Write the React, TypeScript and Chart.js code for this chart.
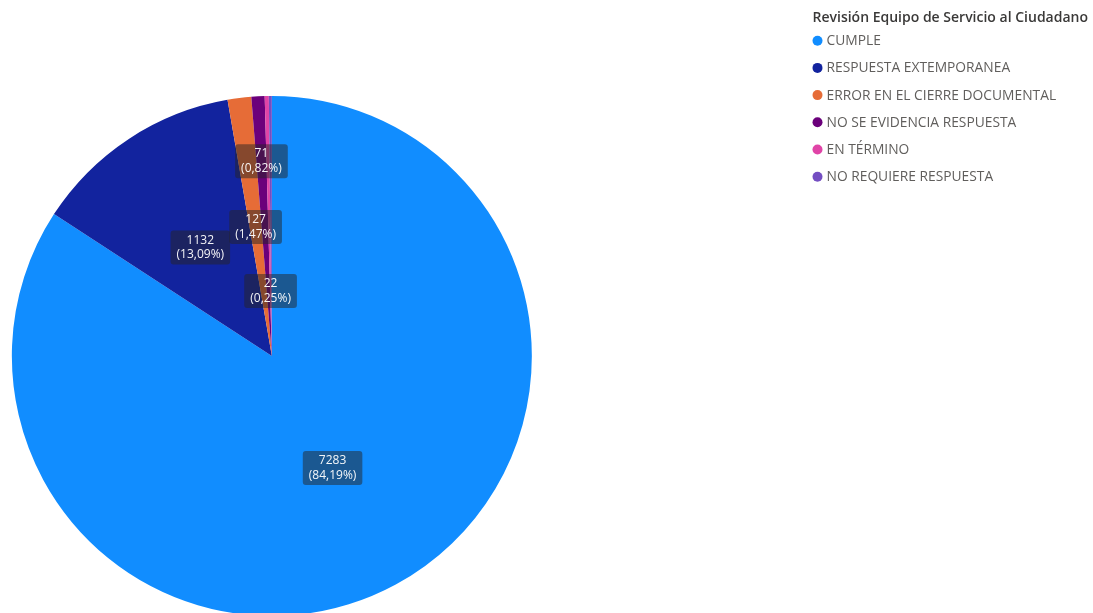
import React, { useEffect, useRef } from 'react';
import { Chart, registerables } from 'chart.js';

Chart.register(...registerables);

const legendTitle = 'Revisión Equipo de Servicio al Ciudadano';
const categories = [
  'CUMPLE',
  'RESPUESTA EXTEMPORANEA',
  'ERROR EN EL CIERRE DOCUMENTAL',
  'NO SE EVIDENCIA RESPUESTA',
  'EN TÉRMINO',
  'NO REQUIERE RESPUESTA',
];
const counts = [7283, 1132, 127, 71, 22, 16];
const sliceColors = ['#118DFF', '#12239E', '#E66C37', '#6B007B', '#E044A7', '#744EC2'];

const FONT = "'Segoe UI', 'Open Sans', 'Noto Sans', sans-serif";

function fmtPct(v: number, total: number) {
  return '(' + ((v / total) * 100).toFixed(2).replace('.', ',') + '%)';
}

const sliceLabelPlugin = {
  id: 'sliceLabels',
  afterDatasetsDraw(chart: any, _args: any, opts: any) {
    const ctx = chart.ctx;
    const meta = chart.getDatasetMeta(0);
    const data: number[] = chart.data.datasets[0].data;
    const total = data.reduce((a, b) => a + b, 0);
    const fractions: (number | null)[] = opts.radialFractions || [];
    ctx.save();
    ctx.font = `${opts.fontSize}px ${FONT}`;
    ctx.textAlign = 'center';
    ctx.textBaseline = 'middle';
    meta.data.forEach((arc: any, i: number) => {
      const f = fractions[i];
      if (f == null) return;
      const p = arc.getProps(['x', 'y', 'startAngle', 'endAngle', 'outerRadius']);
      const mid = (p.startAngle + p.endAngle) / 2;
      const cx = p.x + Math.cos(mid) * p.outerRadius * f;
      const cy = p.y + Math.sin(mid) * p.outerRadius * f;
      const l1 = String(data[i]);
      const l2 = fmtPct(data[i], total);
      const w = Math.max(ctx.measureText(l1).width, ctx.measureText(l2).width) + opts.padX * 2;
      const h = opts.lineHeight * 2 + opts.padY * 2;
      const x0 = cx - w / 2;
      const y0 = cy - h / 2;
      const r = opts.cornerRadius;
      ctx.beginPath();
      ctx.moveTo(x0 + r, y0);
      ctx.lineTo(x0 + w - r, y0);
      ctx.quadraticCurveTo(x0 + w, y0, x0 + w, y0 + r);
      ctx.lineTo(x0 + w, y0 + h - r);
      ctx.quadraticCurveTo(x0 + w, y0 + h, x0 + w - r, y0 + h);
      ctx.lineTo(x0 + r, y0 + h);
      ctx.quadraticCurveTo(x0, y0 + h, x0, y0 + h - r);
      ctx.lineTo(x0, y0 + r);
      ctx.quadraticCurveTo(x0, y0, x0 + r, y0);
      ctx.closePath();
      ctx.fillStyle = opts.boxColor;
      ctx.fill();
      ctx.fillStyle = opts.textColor;
      ctx.fillText(l1, cx, cy - opts.lineHeight / 2);
      ctx.fillText(l2, cx, cy + opts.lineHeight / 2);
    });
    ctx.restore();
  },
};

const sideLegendPlugin = {
  id: 'sideLegend',
  afterDraw(chart: any, _args: any, opts: any) {
    const ctx = chart.ctx;
    const labels: string[] = chart.data.labels;
    const colors: string[] = chart.data.datasets[0].backgroundColor;
    ctx.save();
    ctx.textAlign = 'left';
    ctx.textBaseline = 'middle';
    ctx.font = `600 ${opts.titleSize}px ${FONT}`;
    ctx.fillStyle = opts.titleColor;
    ctx.fillText(opts.title, opts.x, opts.titleY);
    ctx.font = `${opts.itemSize}px ${FONT}`;
    labels.forEach((lab, i) => {
      const y = opts.firstY + i * opts.rowGap;
      ctx.beginPath();
      ctx.arc(opts.x + opts.markerR, y, opts.markerR, 0, Math.PI * 2);
      ctx.fillStyle = colors[i];
      ctx.fill();
      ctx.fillStyle = opts.itemColor;
      ctx.fillText(lab, opts.x + opts.markerR * 2 + 4, y + 0.5);
    });
    ctx.restore();
  },
};

export default function App() {
  const ref = useRef<HTMLCanvasElement | null>(null);

  useEffect(() => {
    document.body.style.margin = '0';
    if (!ref.current) return;
    const chart = new Chart(ref.current, {
      type: 'pie',
      data: {
        labels: categories,
        datasets: [
          {
            data: counts,
            backgroundColor: sliceColors,
            borderWidth: 0,
          },
        ],
      },
      options: {
        animation: false,
        responsive: true,
        maintainAspectRatio: false,
        events: [],
        layout: { padding: { left: 11.7, top: 96, right: 561, bottom: 24 } },
        plugins: {
          legend: { display: false },
          tooltip: { enabled: false },
          sliceLabels: {
            radialFractions: [0.49, 0.5, 0.5, 0.75, 0.25, null],
            fontSize: 12,
            lineHeight: 14.5,
            padX: 6,
            padY: 2.5,
            cornerRadius: 3,
            boxColor: 'rgba(37,36,35,0.5)',
            textColor: 'rgba(255,255,255,0.95)',
          },
          sideLegend: {
            title: legendTitle,
            x: 812.5,
            titleY: 18.5,
            firstY: 40.7,
            rowGap: 27.2,
            markerR: 5,
            titleSize: 14,
            itemSize: 13.8,
            titleColor: '#3a3938',
            itemColor: '#605E5C',
          },
        } as any,
      },
      plugins: [sliceLabelPlugin, sideLegendPlugin],
    });
    return () => chart.destroy();
  }, []);

  return (
    <div style={{ width: 1093, height: 613, overflow: 'hidden', position: 'relative' }}>
      <div style={{ width: 1093, height: 640, position: 'absolute', left: 0, top: 0 }}>
        <canvas ref={ref} />
      </div>
    </div>
  );
}
